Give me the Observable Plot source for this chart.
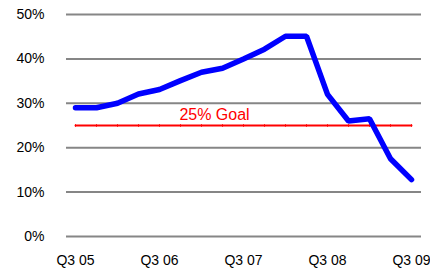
<!DOCTYPE html>
<html>
<head>
<meta charset="utf-8">
<script src="https://cdn.jsdelivr.net/npm/d3@7"></script>
<script src="https://cdn.jsdelivr.net/npm/@observablehq/plot@0.6"></script>
<style>
  html, body { margin: 0; padding: 0; background: #fff; }
  #chart svg { display: block; }
</style>
</head>
<body>
<div id="chart"></div>
<script>
const quarters = ["Q3 05","Q4 05","Q1 06","Q2 06","Q3 06","Q4 06","Q1 07","Q2 07","Q3 07","Q4 07","Q1 08","Q2 08","Q3 08","Q4 08","Q1 09","Q2 09","Q3 09"];
const values = [29, 29, 30, 32.1, 33.1, 35.1, 37, 37.9, 40, 42.2, 45.1, 45.1, 32, 26, 26.5, 17.5, 12.8];
const goalValue = 25;
const goalLabel = "25% Goal";
const xTickLabels = ["Q3 05","Q3 06","Q3 07","Q3 08","Q3 09"];
const yTicks = [0, 10, 20, 30, 40, 50];

const series = quarters.map((q, i) => ({q, v: values[i]}));
const goal = quarters.map(q => ({q, v: goalValue}));

const vTick = {
  draw(context, size) {
    const r = Math.sqrt(size) / 2;
    context.moveTo(0, -r);
    context.lineTo(0, r);
  }
};

const chart = Plot.plot({
  width: 430,
  height: 276,
  marginLeft: 66,
  marginRight: 9,
  marginTop: 14,
  marginBottom: 40,
  style: {fontFamily: "'Liberation Sans', Arial, sans-serif", fontSize: "14px", color: "#000", background: "#fff"},
  x: {type: "point", domain: quarters, range: [75, 411], padding: 0, label: null},
  y: {domain: [0, 50], label: null},
  marks: [
    Plot.ruleY(yTicks, {stroke: "#868686", strokeWidth: 2}),
    Plot.axisY(yTicks, {tickSize: 0, tickPadding: 22, tickFormat: d => d + "%", fontSize: 14, fill: "#000"}),
    Plot.axisX(xTickLabels, {tickSize: 0, tickPadding: 19, fontSize: 14, fill: "#000"}),
    Plot.line(goal, {x: "q", y: "v", stroke: "#ff0000", strokeWidth: 2}),
    Plot.dot(goal, {x: "q", y: "v", symbol: vTick, r: 1.4, stroke: "#ff0000", strokeWidth: 1, fill: "none"}),
    Plot.text([goalLabel], {x: () => "Q1 07", y: goalValue, dx: 13, dy: -11, text: d => d, fill: "#ff0000", fontSize: 16, textAnchor: "middle"}),
    Plot.line(series, {x: "q", y: "v", stroke: "#0000ff", strokeWidth: 5.5, strokeLinejoin: "miter", strokeLinecap: "round"})
  ]
});
document.getElementById("chart").appendChild(chart);
</script>
</body>
</html>
